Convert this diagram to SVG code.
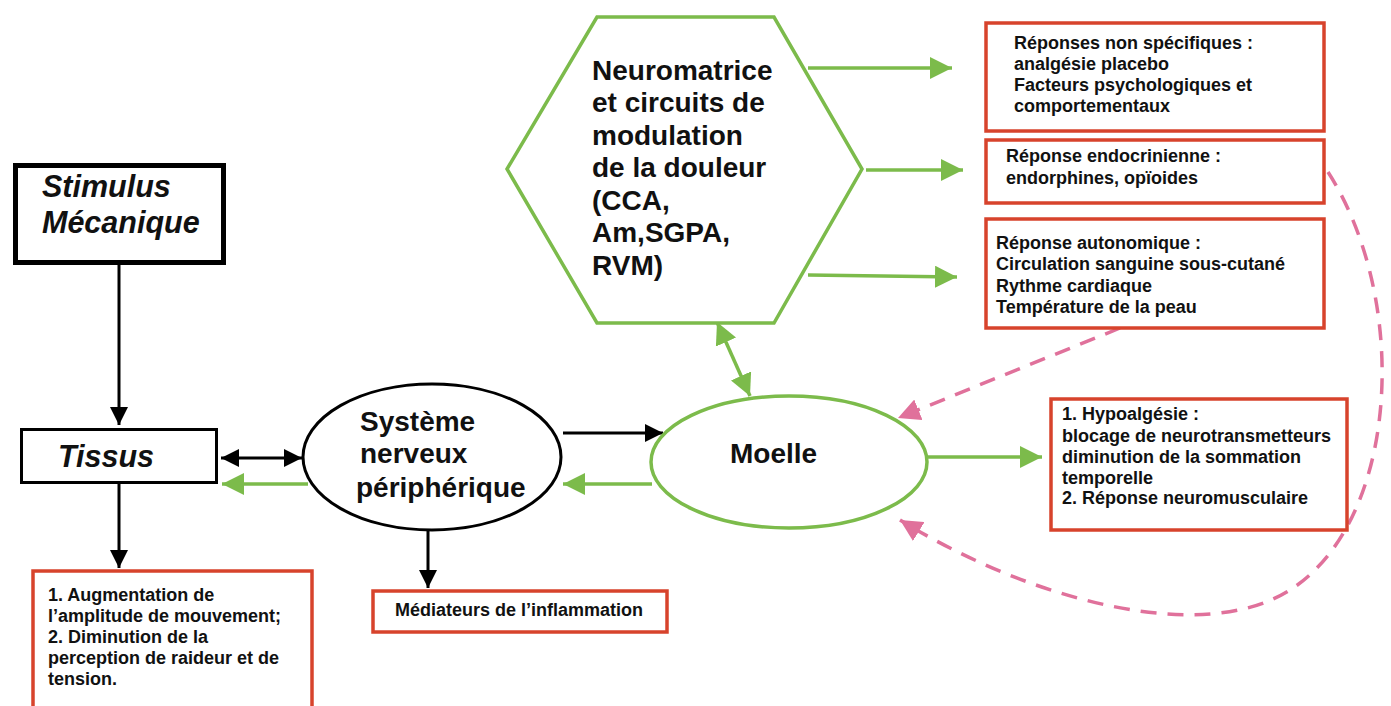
<svg xmlns="http://www.w3.org/2000/svg" width="1391" height="706" viewBox="0 0 1391 706">
<style>
text{font-family:"Liberation Sans",Arial,sans-serif;font-weight:bold;fill:#111}
.big{font-size:28px}
.it{font-style:italic;font-size:30.5px}
.sm{font-size:18px}
.box{fill:#fff;stroke:#d7432c;stroke-width:3.5}
.blk{stroke:#000;stroke-width:3;fill:none}
.grn{stroke:#7cbb4b;stroke-width:3.5;fill:none}
.pink{stroke:#e0719b;stroke-width:3.5;fill:none;stroke-dasharray:16 11}
</style>
<defs>
<marker id="ab" markerUnits="userSpaceOnUse" markerWidth="20" markerHeight="18" refX="18" refY="9" orient="auto-start-reverse"><path d="M0,0 L18,9 L0,18 Z" fill="#000"/></marker>
<marker id="ag" markerUnits="userSpaceOnUse" markerWidth="24" markerHeight="22" refX="22" refY="11" orient="auto-start-reverse"><path d="M0,0 L22,11 L0,22 Z" fill="#7cbb4b"/></marker>
<marker id="ap" markerUnits="userSpaceOnUse" markerWidth="24" markerHeight="22" refX="22" refY="11" orient="auto"><path d="M0,0 L22,11 L0,22 Z" fill="#e0719b"/></marker>
</defs>
<rect width="1391" height="706" fill="#fff"/>

<g id="connectors">
<line class="blk" x1="119" y1="265" x2="119" y2="425" marker-end="url(#ab)"/>
<line class="blk" x1="221" y1="458" x2="302" y2="458" marker-start="url(#ab)" marker-end="url(#ab)"/>
<line class="grn" x1="308" y1="484" x2="222" y2="484" marker-end="url(#ag)"/>
<line class="blk" x1="563" y1="433" x2="663" y2="433" marker-end="url(#ab)"/>
<line class="grn" x1="652" y1="484" x2="563" y2="484" marker-end="url(#ag)"/>
<line class="grn" x1="927" y1="457" x2="1042" y2="457" marker-end="url(#ag)"/>
<line class="blk" x1="119" y1="484" x2="119" y2="568" marker-end="url(#ab)"/>
<line class="blk" x1="428" y1="530" x2="428" y2="588" marker-end="url(#ab)"/>
<line class="grn" x1="808" y1="68" x2="952" y2="68" marker-end="url(#ag)"/>
<line class="grn" x1="866" y1="170" x2="963" y2="170" marker-end="url(#ag)"/>
<line class="grn" x1="808" y1="275" x2="957" y2="277" marker-end="url(#ag)"/>
<line class="grn" x1="717" y1="322" x2="750" y2="396" marker-start="url(#ag)" marker-end="url(#ag)"/>
<line class="pink" x1="1120" y1="328" x2="898" y2="418" marker-end="url(#ap)"/>
<path class="pink" d="M1328,172 C1410,300 1400,520 1290,590 C1202,646 1030,600 900,520" marker-end="url(#ap)"/>
</g>

<g id="stimulus">
<rect x="15.5" y="165.5" width="208" height="97" fill="#fff" stroke="#000" stroke-width="5"/>
<text class="it" x="42" y="197">Stimulus</text>
<text class="it" x="42" y="233">Mécanique</text>
</g>

<g id="tissus">
<rect x="21.5" y="429.5" width="195" height="53" fill="#fff" stroke="#000" stroke-width="3"/>
<text class="it" x="58" y="467">Tissus</text>
</g>

<g id="snp">
<ellipse cx="432" cy="457" rx="129" ry="73" fill="#fff" stroke="#000" stroke-width="3"/>
<text class="big" x="360" y="431">Système</text>
<text class="big" x="360" y="463">nerveux</text>
<text class="big" x="356" y="497">périphérique</text>
</g>

<g id="moelle">
<ellipse cx="789" cy="462" rx="138" ry="66" fill="#fff" stroke="#7cbb4b" stroke-width="3.5"/>
<text class="big" x="730" y="463">Moelle</text>
</g>

<g id="neuromatrice">
<polygon points="597,17 774,17 862,169 774,323 597,323 507,169" fill="#fff" stroke="#7cbb4b" stroke-width="3.5"/>
<text class="big" x="592" y="80">Neuromatrice</text>
<text class="big" x="592" y="112">et circuits de</text>
<text class="big" x="592" y="145">modulation</text>
<text class="big" x="592" y="177">de la douleur</text>
<text class="big" x="592" y="210">(CCA,</text>
<text class="big" x="592" y="242">Am,SGPA,</text>
<text class="big" x="592" y="275">RVM)</text>
</g>

<g id="box-non-specifiques">
<rect class="box" x="986" y="23" width="338" height="108"/>
<text class="sm" x="1014" y="49">Réponses non spécifiques :</text>
<text class="sm" x="1014" y="70">analgésie placebo</text>
<text class="sm" x="1014" y="91">Facteurs psychologiques et</text>
<text class="sm" x="1014" y="112">comportementaux</text>
</g>

<g id="box-endocrinienne">
<rect class="box" x="986" y="140" width="338" height="63"/>
<text class="sm" x="1006" y="162">Réponse endocrinienne :</text>
<text class="sm" x="1006" y="184">endorphines, opïoides</text>
</g>

<g id="box-autonomique">
<rect class="box" x="986" y="219" width="338" height="109"/>
<text class="sm" x="996" y="249">Réponse autonomique :</text>
<text class="sm" x="996" y="270">Circulation sanguine sous-cutané</text>
<text class="sm" x="996" y="292">Rythme cardiaque</text>
<text class="sm" x="996" y="313">Température de la peau</text>
</g>

<g id="box-hypoalgesie">
<rect class="box" x="1051" y="399" width="296" height="131"/>
<text class="sm" x="1062" y="420">1. Hypoalgésie :</text>
<text class="sm" x="1062" y="442">blocage de neurotransmetteurs</text>
<text class="sm" x="1062" y="463">diminution de la sommation</text>
<text class="sm" x="1062" y="484">temporelle</text>
<text class="sm" x="1062" y="504">2. Réponse neuromusculaire</text>
</g>

<g id="box-amplitude">
<rect class="box" x="33" y="571" width="279" height="145"/>
<text class="sm" x="48" y="601">1. Augmentation de</text>
<text class="sm" x="48" y="622">l’amplitude de mouvement;</text>
<text class="sm" x="48" y="643">2. Diminution de la</text>
<text class="sm" x="48" y="664">perception de raideur et de</text>
<text class="sm" x="48" y="685">tension.</text>
</g>

<g id="box-mediateurs">
<rect class="box" x="373" y="591" width="294" height="41"/>
<text class="sm" x="395" y="616">Médiateurs de l’inflammation</text>
</g>
</svg>
